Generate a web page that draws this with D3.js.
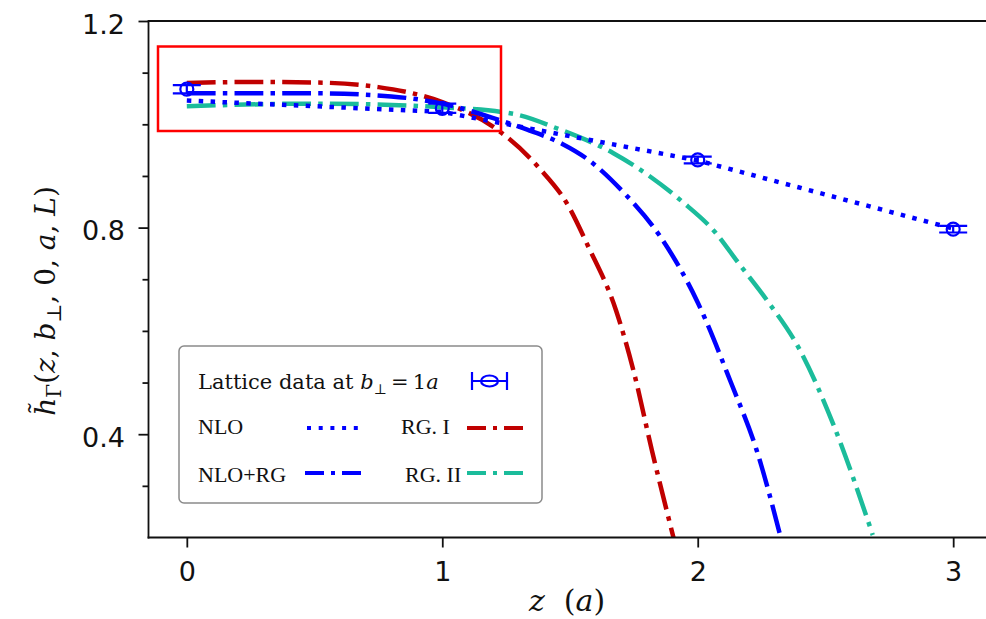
<!DOCTYPE html>
<html>
<head>
<meta charset="utf-8">
<script src="https://cdn.jsdelivr.net/npm/d3@7"></script>
<style>
  html, body { margin: 0; padding: 0; background: #fff; }
  svg { display: block; }
  text { white-space: pre; }
</style>
</head>
<body>
<svg id="chart" width="986" height="619"></svg>
<script>
// Lattice data points with their errors
const zLattice = [0, 1, 2, 3];
const latticeVals = [1.068, 1.031, 0.931, 0.797];
const latticeErrs = [0.008, 0.009, 0.0065, 0.0065];

// NLO (integer z only)
const zNLO = [0, 1, 2, 3];
const nloVals = [1.046, 1.024, 0.930, 0.798];

// NLO+RG
const zNLORG = [0, 0.5, 0.8, 1.0, 1.2, 1.33, 1.47, 1.57, 1.71, 1.85, 2.0, 2.13, 2.23, 2.325];
const nloRGVals = [1.060, 1.060, 1.054, 1.040, 1.012, 0.990, 0.962, 0.932, 0.868, 0.785, 0.655, 0.500, 0.370, 0.200];

// RG. I
const zRG1 = [0, 0.25, 0.5, 0.75, 1.0, 1.2, 1.38, 1.49, 1.57, 1.68, 1.75, 1.82, 1.905];
const rg1Vals = [1.080, 1.082, 1.081, 1.072, 1.043, 0.995, 0.915, 0.845, 0.765, 0.640, 0.520, 0.370, 0.200];

// RG. II
const zRG2 = [0, 0.5, 1.0, 1.28, 1.46, 1.67, 1.76, 1.94, 2.07, 2.16, 2.27, 2.40, 2.53, 2.685];
const rg2Vals = [1.035, 1.040, 1.033, 1.020, 0.990, 0.944, 0.917, 0.850, 0.790, 0.731, 0.660, 0.563, 0.420, 0.205];

// Axis ticks
const xTicks = [0, 1, 2, 3];
const yMajorTicks = [0.4, 0.8, 1.2];
const yMinorTicks = [0.3, 0.5, 0.6, 0.7, 0.9, 1.0, 1.1];

const svg = d3.select("#chart");

const pLeft = 148.5, pRight = 991.5, pTop = 21, pBottom = 537.5;
const x = d3.scaleLinear().domain([-0.15, 3.15]).range([pLeft, pRight]);
const y = d3.scaleLinear().domain([0.2, 1.2]).range([pBottom, pTop]);

const colors = { blue: "#0000ff", red: "#c00000", teal: "#1bbc9b" };
const LW = 4.5;
const dashDot = "28.8,7.2,4.5,7.2";
const dotted = "4.5,7.4";

svg.append("defs").append("clipPath").attr("id", "plotClip")
  .append("rect").attr("x", pLeft).attr("y", pTop).attr("width", pRight - pLeft).attr("height", pBottom - pTop);

const plot = svg.append("g").attr("clip-path", "url(#plotClip)");

function seriesLine(zs, vs, color, dash, curve) {
  const pts = zs.map((z, i) => [z, vs[i]]);
  plot.append("path")
    .datum(pts)
    .attr("fill", "none")
    .attr("stroke", color)
    .attr("stroke-width", LW)
    .attr("stroke-dasharray", dash)
    .attr("d", d3.line().x(d => x(d[0])).y(d => y(d[1])).curve(curve));
}

seriesLine(zRG1, rg1Vals, colors.red, dashDot, d3.curveMonotoneX);
seriesLine(zRG2, rg2Vals, colors.teal, dashDot, d3.curveMonotoneX);
seriesLine(zNLORG, nloRGVals, colors.blue, dashDot, d3.curveMonotoneX);
seriesLine(zNLO, nloVals, colors.blue, dotted, d3.curveLinear);

// Lattice points: open circles with vertical error bars and wide caps
const pts = plot.append("g").attr("stroke", colors.blue).attr("stroke-width", 2.2).attr("fill", "none");
zLattice.forEach((z, i) => {
  const cx = x(z), cy = y(latticeVals[i]);
  const y1 = y(latticeVals[i] + latticeErrs[i]), y2 = y(latticeVals[i] - latticeErrs[i]);
  pts.append("line").attr("x1", cx).attr("x2", cx).attr("y1", y1).attr("y2", y2);
  pts.append("line").attr("x1", cx - 14).attr("x2", cx + 14).attr("y1", y1).attr("y2", y1);
  pts.append("line").attr("x1", cx - 14).attr("x2", cx + 14).attr("y1", y2).attr("y2", y2);
  pts.append("circle").attr("cx", cx).attr("cy", cy).attr("r", 6.5);
});

// Spines
const spine = svg.append("g").attr("stroke", "#111").attr("stroke-width", 1.8);
spine.append("line").attr("x1", pLeft).attr("x2", pLeft).attr("y1", pTop).attr("y2", pBottom + 0.9);
spine.append("line").attr("x1", pLeft - 0.9).attr("x2", pRight).attr("y1", pBottom).attr("y2", pBottom);
spine.append("line").attr("x1", pLeft - 0.9).attr("x2", pRight).attr("y1", pTop).attr("y2", pTop);

// Axes
const tickFont = "DejaVu Sans";
const yAxis = svg.append("g").attr("transform", `translate(${pLeft},0)`)
  .call(d3.axisLeft(y).tickValues(yMajorTicks).tickSize(10).tickPadding(13.5).tickFormat(d3.format(".1f")));
const yMinor = svg.append("g").attr("transform", `translate(${pLeft},0)`)
  .call(d3.axisLeft(y).tickValues(yMinorTicks).tickSize(6).tickFormat(""));
const xAxis = svg.append("g").attr("transform", `translate(0,${pBottom})`)
  .call(d3.axisBottom(x).tickValues(xTicks).tickSize(10).tickFormat(d3.format("d")));

[yAxis, yMinor, xAxis].forEach(g => {
  g.select(".domain").remove();
  g.selectAll(".tick line").attr("stroke", "#111").attr("stroke-width", 1.8);
  g.selectAll("text").attr("font-family", tickFont).attr("font-size", 27).attr("fill", "#111");
});
yAxis.selectAll("text").attr("dy", "12");
xAxis.selectAll("text").attr("y", 43.5).attr("dy", 0);

// Rich text helper: parts are [text, {italic, sub}]
function richText(sel, parts, baseSize, subSize, subShift) {
  let shifted = false;
  parts.forEach(([t, o]) => {
    o = o || {};
    const ts = sel.append("tspan").text(t);
    if (o.italic) ts.attr("font-style", "italic");
    if (o.sub) {
      ts.attr("font-size", subSize);
      if (!shifted) { ts.attr("dy", subShift); shifted = true; }
    } else {
      ts.attr("font-size", baseSize);
      if (shifted) { ts.attr("dy", -subShift); shifted = false; }
    }
  });
}

// Y axis label
const yLab = svg.append("text")
  .attr("transform", "translate(55,301) rotate(-90)")
  .attr("text-anchor", "middle")
  .attr("font-family", "DejaVu Serif")
  .attr("fill", "#111");
richText(yLab, [
  ["h\u0303", { italic: true }], ["\u0393", { sub: true }], ["("], ["z", { italic: true }], [", "],
  ["b", { italic: true }], ["\u22A5", { sub: true }], [", 0, "], ["a", { italic: true }], [", "],
  ["L", { italic: true }], [")"]
], 28, 20, 6);

// X axis label
const xLab = svg.append("text")
  .attr("x", 567).attr("y", 611)
  .attr("text-anchor", "middle")
  .attr("font-family", "DejaVu Serif")
  .attr("fill", "#111");
richText(xLab, [["z", { italic: true }], ["  ("], ["a", { italic: true }], [")"]], 30, 20, 0);

// Highlight box
svg.append("rect")
  .attr("x", 158).attr("y", 46.5).attr("width", 343).attr("height", 84.5)
  .attr("fill", "none").attr("stroke", "#ff0000").attr("stroke-width", 2.5);

// Legend
const lg = svg.append("g");
lg.append("rect")
  .attr("x", 179).attr("y", 346).attr("width", 363).attr("height", 157).attr("rx", 5)
  .attr("fill", "#fff").attr("stroke", "#8a8a8a").attr("stroke-width", 1.5);

const row1 = lg.append("text").attr("x", 198).attr("y", 389)
  .attr("font-family", "DejaVu Serif").attr("fill", "#111");
richText(row1, [["Lattice data at "], ["b", { italic: true }], ["\u22A5", { sub: true }], ["\u2009=\u20091"], ["a", { italic: true }]], 21, 14, 5);

// Lattice marker in legend
const mk = lg.append("g").attr("stroke", colors.blue).attr("stroke-width", 2.2).attr("fill", "none");
mk.append("line").attr("x1", 472).attr("x2", 507).attr("y1", 381).attr("y2", 381);
mk.append("line").attr("x1", 472).attr("x2", 472).attr("y1", 372).attr("y2", 390);
mk.append("line").attr("x1", 507).attr("x2", 507).attr("y1", 372).attr("y2", 390);
mk.append("ellipse").attr("cx", 489.5).attr("cy", 381).attr("rx", 8.5).attr("ry", 5.5);

const legendItems = [
  { label: "NLO", tx: 198, ty: 434, lx1: 307, lx2: 360, ly: 428, color: colors.blue, dash: "4,7.7" },
  { label: "RG. I", tx: 401, ty: 434, lx1: 467, lx2: 523, ly: 428, color: colors.red, dash: "19,7,4,7" },
  { label: "NLO+RG", tx: 198, ty: 482, lx1: 305, lx2: 361, ly: 473, color: colors.blue, dash: "19,7,4,7" },
  { label: "RG. II", tx: 405, ty: 482, lx1: 467, lx2: 523, ly: 473, color: colors.teal, dash: "19,7,4,7" }
];
legendItems.forEach(it => {
  lg.append("text").attr("x", it.tx).attr("y", it.ty)
    .attr("font-family", "Liberation Serif").attr("font-size", 22).attr("fill", "#111")
    .text(it.label);
  lg.append("line").attr("x1", it.lx1).attr("x2", it.lx2).attr("y1", it.ly).attr("y2", it.ly)
    .attr("stroke", it.color).attr("stroke-width", 4).attr("stroke-dasharray", it.dash);
});
</script>
</body>
</html>
